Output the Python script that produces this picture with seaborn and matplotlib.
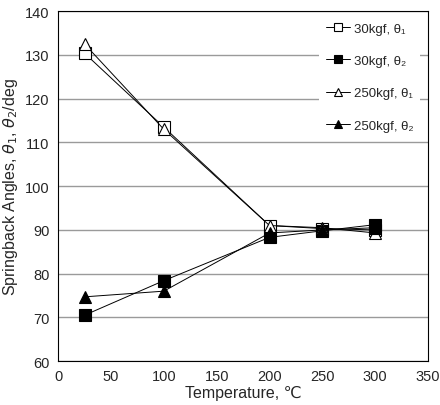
import pandas as pd
import seaborn as sns
import matplotlib
matplotlib.use('Agg')
import matplotlib.pyplot as plt

# springback angle vs temperature
temperature = [25, 100, 200, 250, 300]
kgf30_theta1 = [130.4, 113.5, 91.0, 90.3, 90.0]
kgf30_theta2 = [70.5, 78.4, 88.3, 89.8, 91.2]
kgf250_theta1 = [132.5, 113.0, 91.0, 90.5, 89.3]
kgf250_theta2 = [74.7, 76.0, 89.3, 90.0, 90.5]

labels = ['30kgf, θ₁', '30kgf, θ₂', '250kgf, θ₁', '250kgf, θ₂']
series = [kgf30_theta1, kgf30_theta2, kgf250_theta1, kgf250_theta2]
markers = ['s', 's', '^', '^']
faces = ['white', 'black', 'white', 'black']

df = pd.concat([pd.DataFrame({'T': temperature, 'angle': s, 'series': lab})
                for s, lab in zip(series, labels)], ignore_index=True)

sns.set_style('white')
plt.rcParams['font.family'] = ['Liberation Sans', 'DejaVu Sans']
plt.rcParams['mathtext.fontset'] = 'dejavusans'

fig = plt.figure(figsize=(4.4, 4.06), dpi=100)
ax = fig.add_axes([0.132, 0.108, 0.841, 0.862])

for lab, m, fc in zip(labels, markers, faces):
    sub = df[df['series'] == lab]
    sns.lineplot(data=sub, x='T', y='angle', ax=ax, color='black', lw=0.7,
                 marker=m, markersize=9, markerfacecolor=fc,
                 markeredgecolor='black', markeredgewidth=0.8, label=lab)

ax.set_xlim(0, 350)
ax.set_ylim(60, 140)
ax.set_xticks(range(0, 351, 50))
ax.set_yticks(range(60, 141, 10))
ax.yaxis.grid(True, color='#9a9a9a', lw=1.0)
ax.set_axisbelow(True)
for sp in ax.spines.values():
    sp.set_color('black')
    sp.set_linewidth(0.8)
ax.tick_params(axis='x', direction='in', length=4, width=0.8, labelsize=10.5, pad=6)
ax.tick_params(axis='y', length=0, labelsize=10.5, pad=6)
ax.set_xlabel('Temperature, ℃', fontsize=11.5, labelpad=1)
ax.set_ylabel(r'Springback Angles, $\theta_1$, $\theta_2$/deg', fontsize=11.5, labelpad=4)

leg = ax.legend(loc='upper right', bbox_to_anchor=(0.99, 1.0), frameon=True,
                facecolor='white', edgecolor='none', framealpha=1, fancybox=False,
                markerscale=0.6, labelspacing=1.52, handlelength=1.8,
                handletextpad=0.3, fontsize=9.5, borderpad=0.55, borderaxespad=0.3)

fig.savefig('out.png', dpi=100)
